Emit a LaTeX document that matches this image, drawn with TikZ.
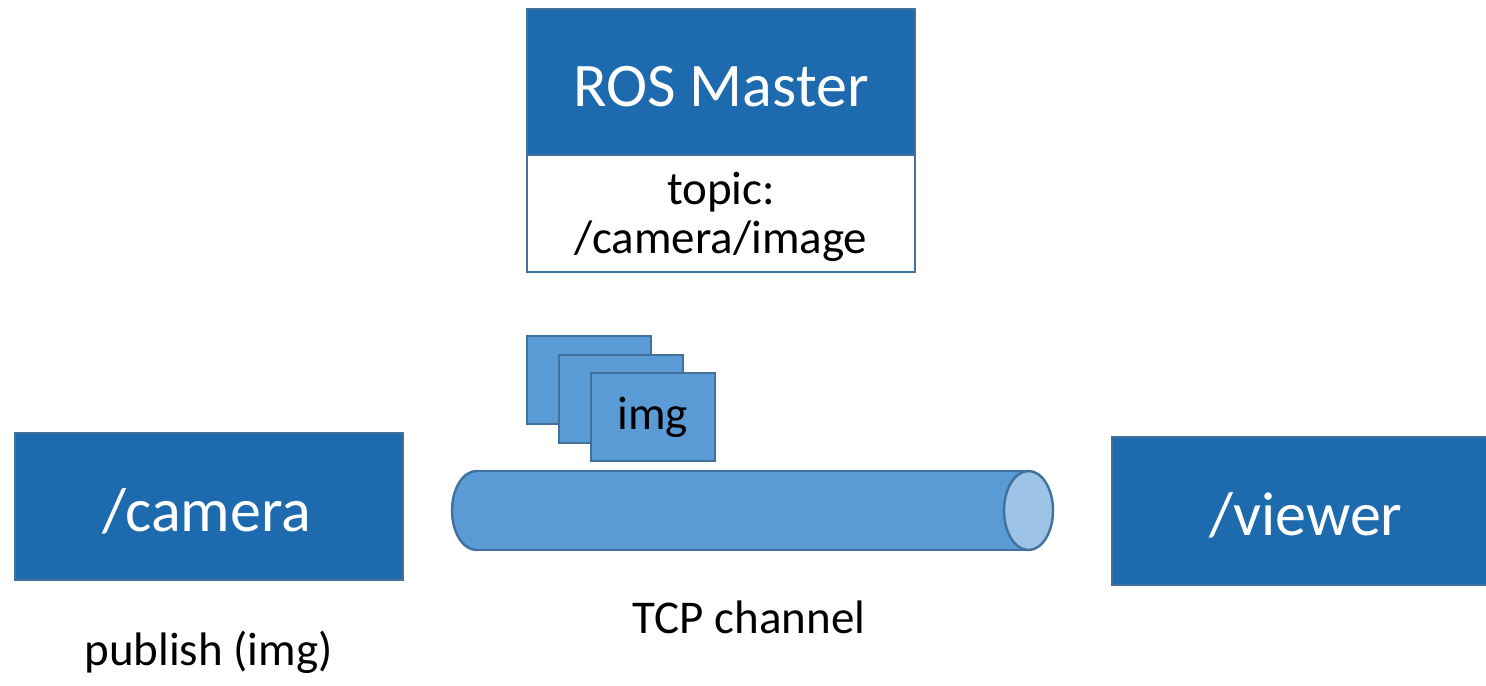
\documentclass[tikz,border=0pt]{standalone}
\usepackage{fontspec}
\setmainfont{Carlito}
\definecolor{darkbox}{RGB}{30,106,175}
\definecolor{edge}{RGB}{65,113,156}
\definecolor{lightbox}{RGB}{91,155,213}
\definecolor{endface}{RGB}{157,195,230}
\tikzset{
  bigbox/.style={draw=edge, line width=1.2pt, fill=darkbox, inner sep=0pt, minimum width=194pt},
  topicbox/.style={draw=edge, line width=1.2pt, fill=white, inner sep=0pt, minimum width=194pt, minimum height=58.5pt},
  imgbox/.style={draw=edge, line width=1.2pt, fill=lightbox, inner sep=0pt, minimum width=62pt, minimum height=44pt},
  bigtxt/.style={anchor=base, inner sep=0pt, text=white, font=\fontsize{31}{37}\selectfont},
  smalltxt/.style={anchor=base, inner sep=0pt, text=black, font=\fontsize{23.5}{28}\selectfont},
  cylline/.style={draw=edge, line width=1.2pt}
}
\begin{document}
\begin{tikzpicture}[x=0.5pt,y=-0.5pt]
\useasboundingbox (0,0) rectangle (1486,685);
\fill[white] (0,0) rectangle (1486,685);
% ROS Master
\node[bigbox, minimum height=73pt] (master) at (721,82) {};
\node[topicbox] (topic) at (721,213.5) {};
\node[bigtxt] (mastertxt) at (721,106) {ROS Master};
\node[smalltxt] (topic1) at (721,204) {topic:};
\node[smalltxt] (topic2) at (721,253) {/camera/image};
% camera and viewer
\node[bigbox, minimum height=73.5pt] (camera) at (209,506.5) {};
\node[bigtxt] (cameratxt) at (207,531) {/camera};
\node[bigbox, minimum height=74pt, minimum width=214pt] (viewer) at (1326,511) {};
\node[bigtxt] (viewertxt) at (1306,535) {/viewer};
% image stack
\node[imgbox] (img1) at (589,380) {};
\node[imgbox] (img2) at (621,399) {};
\node[imgbox] (img3) at (653,417) {};
\node[smalltxt] (imgtxt) at (652.5,429) {img};
% TCP channel cylinder
\coordinate (cylL) at (476.5,510.5);
\coordinate (cylR) at (1028.5,510.5);
\filldraw[cylline, fill=lightbox] (cylL) ellipse [x radius=24.5, y radius=39.5];
\fill[lightbox] (476.5,471) rectangle (1028.5,550);
\draw[cylline] (476.5,471) -- (1028.5,471);
\draw[cylline] (476.5,550) -- (1028.5,550);
\filldraw[cylline, fill=endface] (cylR) ellipse [x radius=24.5, y radius=39.5];
\node[smalltxt] (tcp) at (749,633) {TCP channel};
\node[smalltxt] (publish) at (208.5,665) {publish (img)};
\end{tikzpicture}
\end{document}
